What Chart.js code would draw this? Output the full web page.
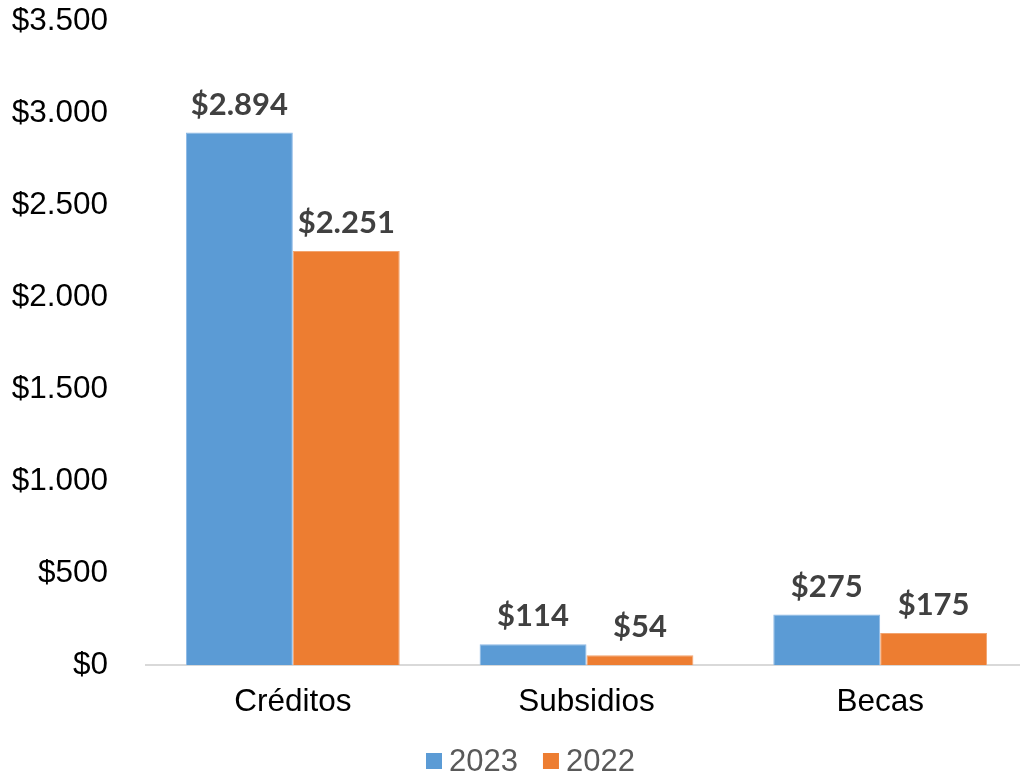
<!DOCTYPE html>
<html>
<head>
<meta charset="utf-8">
<script src="https://cdn.jsdelivr.net/npm/chart.js@4"></script>
<style>
  html, body { margin: 0; padding: 0; background: #fff; overflow: hidden; }
  #wrap { width: 1028px; height: 777px; }
</style>
</head>
<body>
<div id="wrap"><canvas id="barChart"></canvas></div>
<script>
const categories = ['Créditos', 'Subsidios', 'Becas'];
const values2023 = [2894, 114, 275];
const values2022 = [2251, 54, 175];
const yTicks = [0, 500, 1000, 1500, 2000, 2500, 3000, 3500];

function formatMoney(v) {
    return '$' + v.toString().replace(/\B(?=(\d{3})+(?!\d))/g, '.');
}

// etiquetas de valor sobre cada barra
const valueLabels = {
    id: 'valueLabels',
    afterDatasetsDraw(chart) {
        const ctx = chart.ctx;
        ctx.save();
        ctx.font = 'bold 31px Lato';
        ctx.fillStyle = '#404040';
        ctx.textAlign = 'center';
        ctx.textBaseline = 'alphabetic';
        chart.data.datasets.forEach((ds, i) => {
            chart.getDatasetMeta(i).data.forEach((bar, j) => {
                ctx.fillText(formatMoney(ds.data[j]), bar.x, bar.y - 18);
            });
        });
        ctx.restore();
    }
};

// leyenda abajo, dibujada a mano para controlar la posición
const bottomLegend = {
    id: 'bottomLegend',
    afterDraw(chart) {
        const ctx = chart.ctx;
        ctx.save();
        ctx.font = '31px "Liberation Sans"';
        ctx.textBaseline = 'middle';
        ctx.textAlign = 'left';
        let x = 426;
        const y = 761;
        chart.data.datasets.forEach(ds => {
            ctx.fillStyle = ds.backgroundColor;
            ctx.fillRect(x, y - 8, 16, 16);
            x += 23;
            ctx.fillStyle = '#595959';
            ctx.fillText(ds.label, x, y + 1);
            x += ctx.measureText(ds.label).width + 25;
        });
        ctx.restore();
    }
};

const ctx = document.getElementById('barChart').getContext('2d');
new Chart(ctx, {
    type: 'bar',
    data: {
        labels: categories,
        datasets: [
            {
                label: '2023',
                data: values2023,
                backgroundColor: '#5B9BD5',
                borderColor: '#8DB9E6',
                borderWidth: 1
            },
            {
                label: '2022',
                data: values2022,
                backgroundColor: '#ED7D31',
                borderColor: '#F3A46F',
                borderWidth: 1
            }
        ]
    },
    options: {
        responsive: true,
        maintainAspectRatio: false,
        animation: false,
        datasets: {
            bar: { categoryPercentage: 0.728, barPercentage: 1 }
        },
        layout: { padding: { top: 0, right: 1, left: 0, bottom: 38 } },
        scales: {
            x: {
                grid: { display: false, drawTicks: false },
                border: { color: '#D9D9D9', width: 2 },
                ticks: {
                    color: '#000',
                    font: { family: 'Liberation Sans', size: 31.5 },
                    padding: 18
                }
            },
            y: {
                min: 0,
                max: 3500,
                afterFit(scale) {
                    scale.width = 146;
                    scale.paddingTop = 21;
                },
                afterBuildTicks(scale) { scale.ticks = yTicks.map(v => ({ value: v })); },
                grid: { display: false, drawTicks: false },
                border: { display: false },
                ticks: {
                    color: '#000',
                    font: { family: 'Liberation Sans', size: 31.5 },
                    padding: 38,
                    callback: v => formatMoney(v)
                }
            }
        },
        plugins: {
            legend: { display: false },
            tooltip: { enabled: false }
        }
    },
    plugins: [valueLabels, bottomLegend]
});
</script>
</body>
</html>
